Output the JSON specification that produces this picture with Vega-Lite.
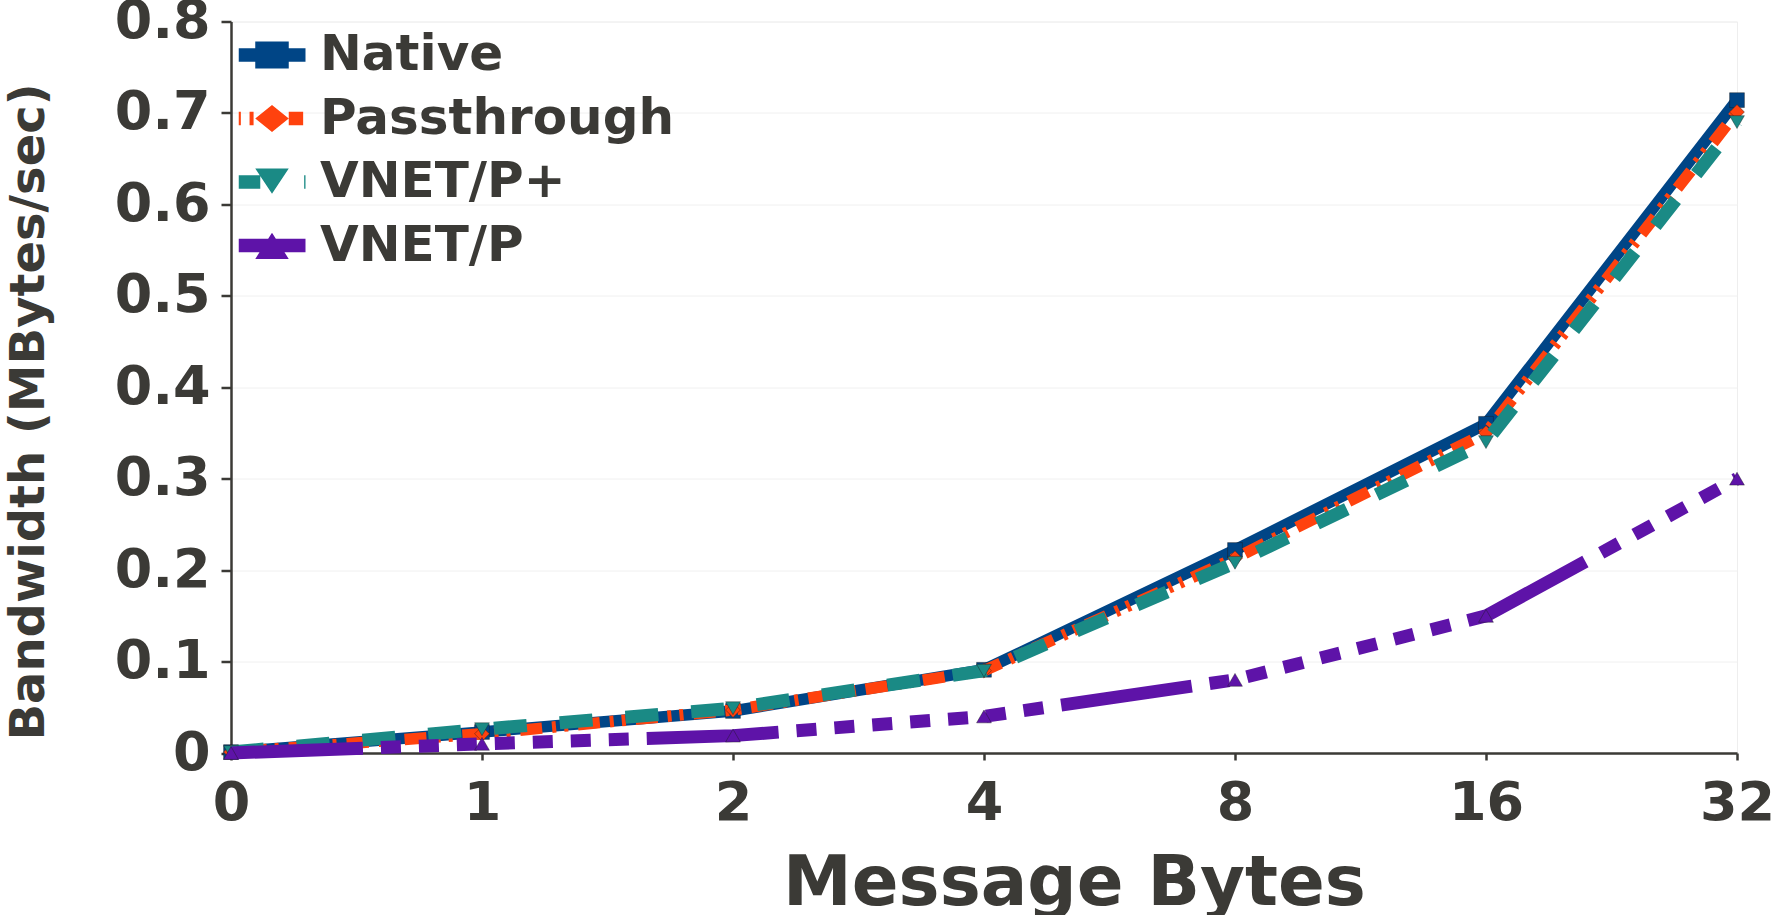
{
  "$schema": "https://vega.github.io/schema/vega-lite/v6.json",
  "width": 1506,
  "height": 731.5,
  "autosize": "none",
  "padding": {"left": 231, "top": 21.5, "right": 42, "bottom": 162},
  "background": "white",
  "config": {
    "view": {"stroke": "#eeeeee", "strokeWidth": 1},
    "axis": {
      "domainColor": "#3b3a36",
      "domainWidth": 2.5,
      "tickColor": "#3b3a36",
      "tickWidth": 2.5,
      "labelColor": "#3b3a36",
      "labelFont": "DejaVu Sans",
      "labelFontWeight": "bold",
      "labelFontSize": 54,
      "titleColor": "#3b3a36",
      "titleFontWeight": "bold"
    }
  },
  "data": {
    "values": [
      {"series": "Native", "bytes": 0, "bw": 0.001},
      {"series": "Native", "bytes": 1, "bw": 0.023},
      {"series": "Native", "bytes": 2, "bw": 0.046},
      {"series": "Native", "bytes": 4, "bw": 0.091},
      {"series": "Native", "bytes": 8, "bw": 0.222},
      {"series": "Native", "bytes": 16, "bw": 0.36},
      {"series": "Native", "bytes": 32, "bw": 0.714},
      {"series": "Passthrough", "bytes": 0, "bw": 0.001},
      {"series": "Passthrough", "bytes": 1, "bw": 0.021},
      {"series": "Passthrough", "bytes": 2, "bw": 0.047},
      {"series": "Passthrough", "bytes": 4, "bw": 0.09},
      {"series": "Passthrough", "bytes": 8, "bw": 0.213},
      {"series": "Passthrough", "bytes": 16, "bw": 0.35},
      {"series": "Passthrough", "bytes": 32, "bw": 0.701},
      {"series": "VNET/P+", "bytes": 0, "bw": 0.001},
      {"series": "VNET/P+", "bytes": 1, "bw": 0.026},
      {"series": "VNET/P+", "bytes": 2, "bw": 0.049},
      {"series": "VNET/P+", "bytes": 4, "bw": 0.09},
      {"series": "VNET/P+", "bytes": 8, "bw": 0.208},
      {"series": "VNET/P+", "bytes": 16, "bw": 0.34},
      {"series": "VNET/P+", "bytes": 32, "bw": 0.69},
      {"series": "VNET/P", "bytes": 0, "bw": 0.0},
      {"series": "VNET/P", "bytes": 1, "bw": 0.01},
      {"series": "VNET/P", "bytes": 2, "bw": 0.019},
      {"series": "VNET/P", "bytes": 4, "bw": 0.04},
      {"series": "VNET/P", "bytes": 8, "bw": 0.08},
      {"series": "VNET/P", "bytes": 16, "bw": 0.15},
      {"series": "VNET/P", "bytes": 32, "bw": 0.3}
    ]
  },
  "encoding": {
    "x": {
      "field": "bytes",
      "type": "ordinal",
      "scale": {"type": "point", "padding": 0},
      "axis": {
        "title": "Message Bytes",
        "labelAngle": 0,
        "tickSize": 7,
        "labelPadding": 16.5,
        "grid": false,
        "titleFont": "DejaVu Sans",
        "titleFontSize": 69,
        "titleX": 843,
        "titleY": 151,
        "titleAlign": "center",
        "titleBaseline": "alphabetic",
        "titleAngle": 0
      }
    },
    "y": {
      "field": "bw",
      "type": "quantitative",
      "scale": {"domain": [0, 0.8], "nice": false, "zero": true},
      "axis": {
        "title": "Bandwidth (MBytes/sec)",
        "values": [0, 0.1, 0.2, 0.3, 0.4, 0.5, 0.6, 0.7, 0.8],
        "format": ".1~f",
        "tickSize": 10,
        "labelPadding": 11,
        "grid": true,
        "gridColor": "#f0f0f0",
        "gridWidth": 1,
        "titleFont": "DejaVu Sans",
        "titleFontSize": 48,
        "titleX": -188,
        "titleY": 390,
        "titleAngle": -90,
        "titleAlign": "center",
        "titleBaseline": "alphabetic"
      }
    }
  },
  "layer": [
    {
      "transform": [{"filter": "datum.series === 'Native'"}],
      "mark": {"type": "line", "color": "#004586", "strokeWidth": 11.5}
    },
    {
      "transform": [{"filter": "datum.series === 'Native'"}],
      "mark": {"type": "point", "shape": "square", "filled": true, "opacity": 1, "color": "#004586", "size": 220, "stroke": "#1a1a1a", "strokeWidth": 0.8, "strokeOpacity": 0.5}
    },
    {
      "transform": [{"filter": "datum.series === 'Passthrough'"}],
      "mark": {"type": "line", "color": "#ff420e", "strokeWidth": 11.5, "strokeDash": [22, 10, 4, 8, 4, 10]}
    },
    {
      "transform": [{"filter": "datum.series === 'Passthrough'"}],
      "mark": {"type": "point", "shape": "diamond", "filled": true, "opacity": 1, "color": "#ff420e", "size": 220, "stroke": "#1a1a1a", "strokeWidth": 0.8, "strokeOpacity": 0.5}
    },
    {
      "transform": [{"filter": "datum.series === 'VNET/P+'"}],
      "mark": {"type": "line", "color": "#1a8a85", "strokeWidth": 13, "strokeDash": [33, 33]}
    },
    {
      "transform": [{"filter": "datum.series === 'VNET/P+'"}],
      "mark": {"type": "point", "shape": "triangle-down", "filled": true, "opacity": 1, "color": "#1a8a85", "size": 220, "stroke": "#1a1a1a", "strokeWidth": 0.8, "strokeOpacity": 0.5}
    },
    {
      "transform": [{"filter": "datum.series === 'VNET/P'"}],
      "mark": {"type": "line", "color": "#5e13a8", "strokeWidth": 13, "strokeDash": [132, 18, 20, 18, 20, 18, 20, 18, 20, 18, 20, 18, 20, 18, 20, 18]}
    },
    {
      "transform": [{"filter": "datum.series === 'VNET/P'"}],
      "mark": {"type": "point", "shape": "triangle-up", "filled": true, "opacity": 1, "color": "#5e13a8", "size": 220, "stroke": "#1a1a1a", "strokeWidth": 0.8, "strokeOpacity": 0.5}
    },
    {
      "transform": [{"filter": "false"}],
      "mark": {"type": "point", "filled": true, "opacity": 1},
      "encoding": {
        "color": {
          "field": "series",
          "type": "nominal",
          "scale": {
            "domain": ["Native", "Passthrough", "VNET/P+", "VNET/P"],
            "range": ["#004586", "#ff420e", "#1a8a85", "#5e13a8"]
          },
          "legend": {
            "title": null,
            "orient": "none",
            "legendX": 7.5,
            "legendY": 3.5,
            "padding": 0,
            "direction": "vertical",
            "columns": 1,
            "symbolSize": 4489,
            "symbolStrokeWidth": 0,
            "symbolOffset": 0,
            "clipHeight": 60,
            "rowPadding": 3.5,
            "labelOffset": 14.5,
            "labelFont": "DejaVu Sans",
            "labelFontWeight": "bold",
            "labelFontSize": 50,
            "labelColor": "#3b3a36",
            "labelLimit": 800
          }
        },
        "shape": {
          "field": "series",
          "type": "nominal",
          "scale": {
            "domain": ["Native", "Passthrough", "VNET/P+", "VNET/P"],
            "range": [
              "M-1,-0.2H-0.5V-0.4H0.5V-0.2H1V0.2H0.5V0.4H-0.5V0.2H-1Z",
              "M-1,-0.2H-0.93V0.2H-1Z M-0.67,-0.2H-0.55V0.2H-0.67Z M-0.5,0L0,-0.4L0.5,0L0,0.4Z M0.5,-0.2H0.93V0.2H0.5Z",
              "M-1,-0.2H-0.35V0.2H-1Z M-0.5,-0.4H0.5L0,0.35Z M0.96,-0.2H1V0.2H0.96Z",
              "M-1,-0.2H1V0.2H-1Z M0,-0.38L0.5,0.4H-0.5Z"
            ]
          }
        }
      }
    }
  ]
}
